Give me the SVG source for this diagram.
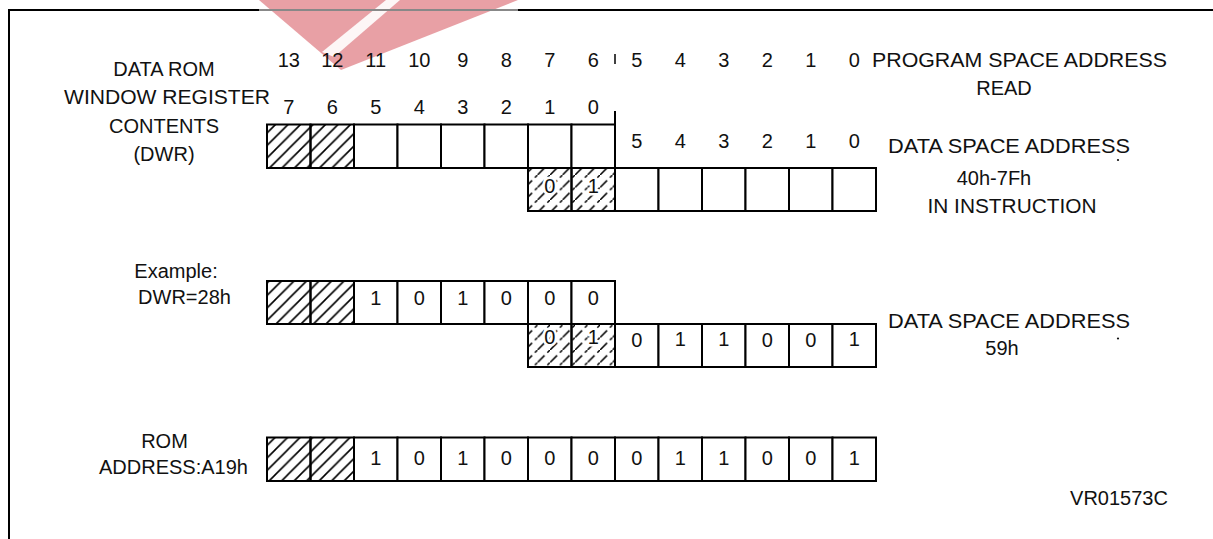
<svg xmlns="http://www.w3.org/2000/svg" width="1213" height="539" viewBox="0 0 1213 539">
<style>
text{font-family:"Liberation Sans",Arial,sans-serif;font-size:20px;fill:#111}
.c{text-anchor:middle}
.cell{fill:#fff;stroke:#000;stroke-width:2}
.hat{fill:url(#hatch);stroke:#000;stroke-width:2}
.hatd{fill:url(#hatchd);stroke:#000;stroke-width:2}
.halo{paint-order:stroke;stroke:#fff;stroke-width:5px;stroke-linejoin:round}
.ln{stroke:#000;stroke-width:2;fill:none}
</style>
<defs>
<pattern id="hatch" width="12.5" height="12.5" patternUnits="userSpaceOnUse">
<path d="M-1,13.5 L13.5,-1 M-2,2 L2,-2 M10.5,14.5 L14.5,10.5" stroke="#000" stroke-width="1.6"/>
</pattern>
<pattern id="hatchd" width="12.5" height="12.5" patternUnits="userSpaceOnUse">
<path d="M0,12.5 L12.5,0" stroke="#000" stroke-width="1.5" stroke-dasharray="10 4"/>
</pattern>
</defs>
<rect width="1213" height="539" fill="#fff"/>

<g id="frame">
<path d="M9,539 V10 H259 M518,10 H1213" class="ln"/>
</g>
<g id="watermark">
<polygon points="259,0 518,0 341,70" fill="#e48f95" fill-opacity="0.85"/>
<polygon points="322,52 334,57 400,0 386,0" fill="#fff" fill-opacity="0.9"/>
<path d="M259,10 H518" stroke="#888" stroke-width="2"/>
</g>

<g id="connectors">
<path d="M615,111 V124.5" class="ln"/>
<path d="M615,54 V64" stroke="#000" stroke-width="1.5"/>
</g>

<g id="label-dwr">
<text class="c" x="164" y="75.5">DATA ROM</text>
<text class="c" x="167" y="104" textLength="206" lengthAdjust="spacingAndGlyphs">WINDOW REGISTER</text>
<text class="c" x="164" y="132.5">CONTENTS</text>
<text class="c" x="164" y="161">(DWR)</text>
</g>

<g id="bit-numbers">
<text class="c" x="288.75" y="66.5">13</text>
<text class="c" x="332.25" y="66.5">12</text>
<text class="c" x="375.75" y="66.5">11</text>
<text class="c" x="419.25" y="66.5">10</text>
<text class="c" x="462.75" y="66.5">9</text>
<text class="c" x="506.25" y="66.5">8</text>
<text class="c" x="549.75" y="66.5">7</text>
<text class="c" x="593.25" y="66.5">6</text>
<text class="c" x="636.75" y="66.5">5</text>
<text class="c" x="680.25" y="66.5">4</text>
<text class="c" x="723.75" y="66.5">3</text>
<text class="c" x="767.25" y="66.5">2</text>
<text class="c" x="810.75" y="66.5">1</text>
<text class="c" x="854.25" y="66.5">0</text>
<text class="c" x="288.75" y="113.5">7</text>
<text class="c" x="332.25" y="113.5">6</text>
<text class="c" x="375.75" y="113.5">5</text>
<text class="c" x="419.25" y="113.5">4</text>
<text class="c" x="462.75" y="113.5">3</text>
<text class="c" x="506.25" y="113.5">2</text>
<text class="c" x="549.75" y="113.5">1</text>
<text class="c" x="593.25" y="113.5">0</text>
<text class="c" x="636.75" y="148">5</text>
<text class="c" x="680.25" y="148">4</text>
<text class="c" x="723.75" y="148">3</text>
<text class="c" x="767.25" y="148">2</text>
<text class="c" x="810.75" y="148">1</text>
<text class="c" x="854.25" y="148">0</text>
</g>

<g id="label-program">
<text x="872" y="67" textLength="295" lengthAdjust="spacingAndGlyphs">PROGRAM SPACE ADDRESS</text>
<text class="c" x="1004" y="95">READ</text>
</g>

<g id="reg-dwr">
<rect class="hat" x="267" y="124.5" width="43.5" height="43.5"/>
<rect class="hat" x="310.5" y="124.5" width="43.5" height="43.5"/>
<rect class="cell" x="354" y="124.5" width="43.5" height="43.5"/>
<rect class="cell" x="397.5" y="124.5" width="43.5" height="43.5"/>
<rect class="cell" x="441" y="124.5" width="43.5" height="43.5"/>
<rect class="cell" x="484.5" y="124.5" width="43.5" height="43.5"/>
<rect class="cell" x="528" y="124.5" width="43.5" height="43.5"/>
<rect class="cell" x="571.5" y="124.5" width="43.5" height="43.5"/>
</g>

<g id="reg-data-space">
<rect class="hatd" x="528" y="168" width="43.5" height="43"/>
<rect class="hatd" x="571.5" y="168" width="43.5" height="43"/>
<rect class="cell" x="615" y="168" width="43.5" height="43"/>
<rect class="cell" x="658.5" y="168" width="43.5" height="43"/>
<rect class="cell" x="702" y="168" width="43.5" height="43"/>
<rect class="cell" x="745.5" y="168" width="43.5" height="43"/>
<rect class="cell" x="789" y="168" width="43.5" height="43"/>
<rect class="cell" x="832.5" y="168" width="43.5" height="43"/>
<text class="c halo" x="549.75" y="192.5">0</text>
<text class="c halo" x="593.25" y="192.5">1</text>
</g>

<g id="label-data-space">
<text x="888" y="152.5" textLength="242" lengthAdjust="spacingAndGlyphs">DATA SPACE ADDRESS</text>
<circle cx="1118" cy="160" r="1.1" fill="#111"/>
<text class="c" x="994" y="185">40h-7Fh</text>
<text class="c" x="1012" y="213" textLength="169" lengthAdjust="spacingAndGlyphs">IN INSTRUCTION</text>
</g>

<g id="label-example">
<text class="c" x="176" y="277.5">Example:</text>
<text class="c" x="184.5" y="304">DWR=28h</text>
</g>

<g id="reg-example-dwr">
<rect class="hat" x="267" y="281" width="43.5" height="43"/>
<rect class="hat" x="310.5" y="281" width="43.5" height="43"/>
<rect class="cell" x="354" y="281" width="43.5" height="43"/>
<rect class="cell" x="397.5" y="281" width="43.5" height="43"/>
<rect class="cell" x="441" y="281" width="43.5" height="43"/>
<rect class="cell" x="484.5" y="281" width="43.5" height="43"/>
<rect class="cell" x="528" y="281" width="43.5" height="43"/>
<rect class="cell" x="571.5" y="281" width="43.5" height="43"/>
<text class="c" x="375.75" y="304.5">1</text>
<text class="c" x="419.25" y="304.5">0</text>
<text class="c" x="462.75" y="304.5">1</text>
<text class="c" x="506.25" y="304.5">0</text>
<text class="c" x="549.75" y="304.5">0</text>
<text class="c" x="593.25" y="304.5">0</text>
</g>

<g id="reg-example-data">
<rect class="hatd" x="528" y="324" width="43.5" height="43"/>
<rect class="hatd" x="571.5" y="324" width="43.5" height="43"/>
<rect class="cell" x="615" y="324" width="43.5" height="43"/>
<rect class="cell" x="658.5" y="324" width="43.5" height="43"/>
<rect class="cell" x="702" y="324" width="43.5" height="43"/>
<rect class="cell" x="745.5" y="324" width="43.5" height="43"/>
<rect class="cell" x="789" y="324" width="43.5" height="43"/>
<rect class="cell" x="832.5" y="324" width="43.5" height="43"/>
<text class="c halo" x="549.75" y="344">0</text>
<text class="c halo" x="593.25" y="344">1</text>
<text class="c" x="636.75" y="347">0</text>
<text class="c" x="680.25" y="345.5">1</text>
<text class="c" x="723.75" y="345.5">1</text>
<text class="c" x="767.25" y="347">0</text>
<text class="c" x="810.75" y="347">0</text>
<text class="c" x="854.25" y="345.5">1</text>
</g>

<g id="label-example-data">
<text x="888" y="327.5" textLength="242" lengthAdjust="spacingAndGlyphs">DATA SPACE ADDRESS</text>
<circle cx="1118" cy="338.5" r="1.1" fill="#111"/>
<text class="c" x="1002" y="355">59h</text>
</g>

<g id="label-rom">
<text class="c" x="164.5" y="447.5">ROM</text>
<text class="c" x="173.5" y="473.5">ADDRESS:A19h</text>
</g>

<g id="reg-rom">
<rect class="hat" x="267" y="437.5" width="43.5" height="43.5"/>
<rect class="hat" x="310.5" y="437.5" width="43.5" height="43.5"/>
<rect class="cell" x="354" y="437.5" width="43.5" height="43.5"/>
<rect class="cell" x="397.5" y="437.5" width="43.5" height="43.5"/>
<rect class="cell" x="441" y="437.5" width="43.5" height="43.5"/>
<rect class="cell" x="484.5" y="437.5" width="43.5" height="43.5"/>
<rect class="cell" x="528" y="437.5" width="43.5" height="43.5"/>
<rect class="cell" x="571.5" y="437.5" width="43.5" height="43.5"/>
<rect class="cell" x="615" y="437.5" width="43.5" height="43.5"/>
<rect class="cell" x="658.5" y="437.5" width="43.5" height="43.5"/>
<rect class="cell" x="702" y="437.5" width="43.5" height="43.5"/>
<rect class="cell" x="745.5" y="437.5" width="43.5" height="43.5"/>
<rect class="cell" x="789" y="437.5" width="43.5" height="43.5"/>
<rect class="cell" x="832.5" y="437.5" width="43.5" height="43.5"/>
<text class="c" x="375.75" y="465">1</text>
<text class="c" x="419.25" y="465">0</text>
<text class="c" x="462.75" y="465">1</text>
<text class="c" x="506.25" y="465">0</text>
<text class="c" x="549.75" y="465">0</text>
<text class="c" x="593.25" y="465">0</text>
<text class="c" x="636.75" y="465">0</text>
<text class="c" x="680.25" y="465">1</text>
<text class="c" x="723.75" y="465">1</text>
<text class="c" x="767.25" y="465">0</text>
<text class="c" x="810.75" y="465">0</text>
<text class="c" x="854.25" y="465">1</text>
</g>

<g id="label-ref">
<text class="c" x="1119" y="505">VR01573C</text>
</g>
</svg>
